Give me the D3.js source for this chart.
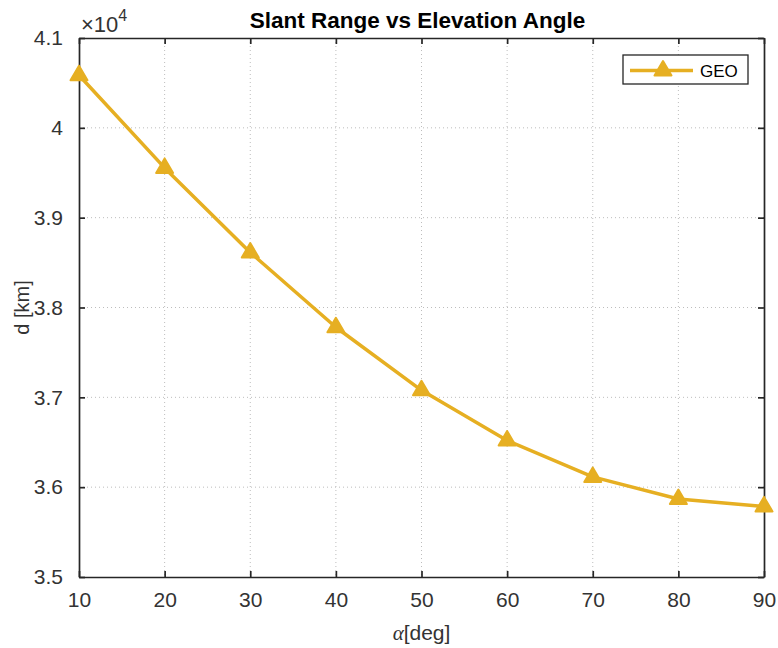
<!DOCTYPE html>
<html>
<head>
<meta charset="utf-8">
<script src="https://cdn.jsdelivr.net/npm/d3@7"></script>
<style>
  html, body { margin: 0; padding: 0; background: #fff; }
  svg { display: block; font-family: "Liberation Sans", Arial, Helvetica, sans-serif; }
</style>
</head>
<body>
<svg id="chart" width="778" height="648"></svg>
<script>
// Elevation angle (deg) and GEO slant range (km)
const elevation = [10, 20, 30, 40, 50, 60, 70, 80, 90];
const slantRange = [40586, 39554, 38612, 37780, 37078, 36520, 36114, 35868, 35786];
const xTicks = [10, 20, 30, 40, 50, 60, 70, 80, 90];
const yTicks = [3.5, 3.6, 3.7, 3.8, 3.9, 4.0, 4.1];
const seriesName = "GEO";

const W = 778, H = 648;
const m = { left: 79, right: 14, top: 38, bottom: 71 };
const iw = W - m.left - m.right;
const ih = H - m.top - m.bottom;
const lineColor = "#E6AF22";
const axisColor = "#262626";
const tickFont = 21;

const svg = d3.select("#chart");
const g = svg.append("g").attr("transform", `translate(${m.left},${m.top})`);

const x = d3.scaleLinear().domain([10, 90]).range([0, iw]);
const y = d3.scaleLinear().domain([3.5e4, 4.1e4]).range([ih, 0]);

// dotted grid
g.append("g").selectAll("line").data(xTicks.slice(1, -1)).join("line")
  .attr("x1", d => x(d)).attr("x2", d => x(d)).attr("y1", 0).attr("y2", ih)
  .attr("stroke", "#bdbdbd").attr("stroke-width", 1).attr("stroke-dasharray", "1,3");
g.append("g").selectAll("line").data(yTicks.slice(1, -1)).join("line")
  .attr("y1", d => y(d * 1e4)).attr("y2", d => y(d * 1e4)).attr("x1", 0).attr("x2", iw)
  .attr("stroke", "#bdbdbd").attr("stroke-width", 1).attr("stroke-dasharray", "1,3");

// axes with inward ticks on all four sides
const tickLen = 6;
const xAxis = d3.axisBottom(x).tickValues(xTicks).tickSizeInner(-tickLen).tickSizeOuter(0).tickPadding(15);
const yAxis = d3.axisLeft(y).tickValues(yTicks.map(v => v * 1e4))
  .tickFormat(d => String(+(d / 1e4).toFixed(1)))
  .tickSizeInner(-tickLen).tickSizeOuter(0).tickPadding(16);
const xTop = d3.axisTop(x).tickValues(xTicks).tickSizeInner(-tickLen).tickSizeOuter(0).tickFormat("");
const yRight = d3.axisRight(y).tickValues(yTicks.map(v => v * 1e4)).tickSizeInner(-tickLen).tickSizeOuter(0).tickFormat("");

function styleAxis(sel) {
  sel.attr("font-size", tickFont).attr("font-family", null);
  sel.select(".domain").attr("stroke", axisColor).attr("stroke-width", 1.7);
  sel.selectAll(".tick line").attr("stroke", axisColor).attr("stroke-width", 1.7);
  sel.selectAll("text").attr("fill", "#333").attr("font-size", tickFont);
}
g.append("g").attr("transform", `translate(0,${ih})`).call(xAxis).call(styleAxis);
g.append("g").call(yAxis).call(styleAxis);
g.append("g").call(xTop).call(styleAxis);
g.append("g").attr("transform", `translate(${iw},0)`).call(yRight).call(styleAxis);

// exponent label
const exp = svg.append("text").attr("x", 81).attr("y", 32).attr("fill", "#333").attr("font-size", 22);
exp.append("tspan").text("\u00d710");
exp.append("tspan").attr("font-size", 16).attr("dy", -11).text("4");

// series line
const pts = elevation.map((e, i) => ({ e, d: slantRange[i] }));
g.append("path").datum(pts)
  .attr("fill", "none").attr("stroke", lineColor).attr("stroke-width", 3.5).attr("stroke-linejoin", "round")
  .attr("d", d3.line().x(d => x(d.e)).y(d => y(d.d)));

// triangle markers
const triPath = "M0,-9.5L8.5,5L-8.5,5Z";
g.append("g").selectAll("path").data(pts).join("path")
  .attr("transform", d => `translate(${x(d.e)},${y(d.d)})`)
  .attr("d", triPath)
  .attr("fill", lineColor).attr("stroke", lineColor).attr("stroke-width", 2).attr("stroke-linejoin", "round");

// title and axis labels
svg.append("text").attr("x", m.left + iw / 2 - 4).attr("y", 28).attr("text-anchor", "middle")
  .attr("font-size", 22.5).attr("font-weight", "bold").attr("fill", "#000").text("Slant Range vs Elevation Angle");
svg.append("text").attr("transform", `translate(29,${m.top + ih / 2}) rotate(-90)`).attr("text-anchor", "middle")
  .attr("font-size", 20).attr("fill", "#333").text("d [km]");
const xl = svg.append("text").attr("x", m.left + iw / 2).attr("y", 640).attr("text-anchor", "middle")
  .attr("font-size", 21).attr("fill", "#333");
xl.append("tspan").attr("font-family", "'Liberation Serif', 'DejaVu Serif', serif").attr("font-style", "italic").text("\u03b1");
xl.append("tspan").text("[deg]");

// legend
const lg = svg.append("g").attr("transform", "translate(623,55)");
lg.append("rect").attr("width", 125).attr("height", 29).attr("fill", "#fff").attr("stroke", axisColor).attr("stroke-width", 1.3);
lg.append("line").attr("x1", 7).attr("x2", 70).attr("y1", 15.5).attr("y2", 15.5).attr("stroke", lineColor).attr("stroke-width", 3.5);
lg.append("path").attr("transform", "translate(40,15.5)").attr("d", triPath)
  .attr("fill", lineColor).attr("stroke", lineColor).attr("stroke-width", 2).attr("stroke-linejoin", "round");
lg.append("text").attr("x", 77).attr("y", 22).attr("font-size", 17).attr("fill", "#000").text(seriesName);
</script>
</body>
</html>
